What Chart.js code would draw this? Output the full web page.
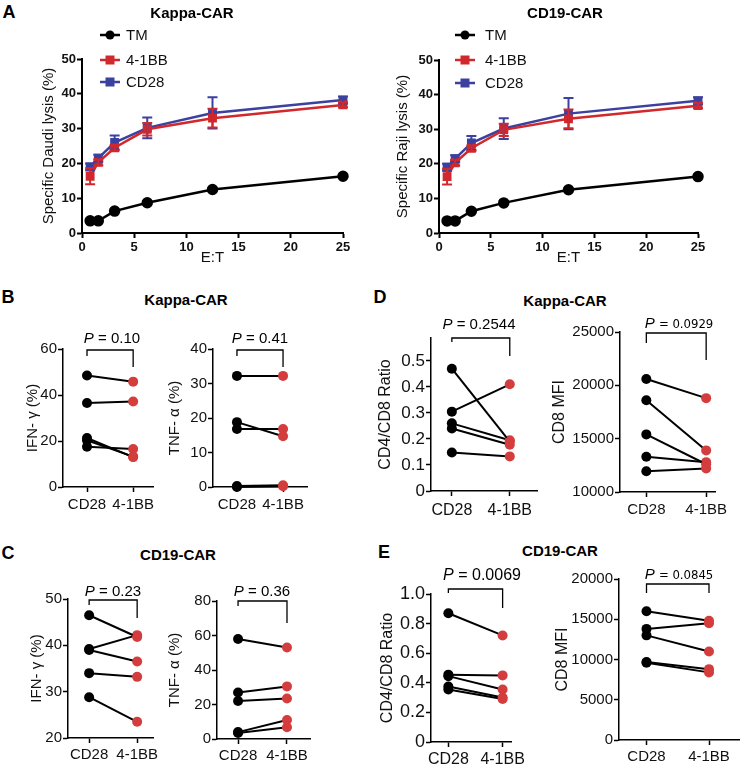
<!DOCTYPE html>
<html><head><meta charset="utf-8">
<script src="https://cdn.jsdelivr.net/npm/chart.js@4.4.0/dist/chart.umd.min.js"></script>
<style>
body{margin:0;background:#fff;width:744px;height:765px;position:relative;overflow:hidden;font-family:'Liberation Sans',Arial,Helvetica,sans-serif;}
canvas{position:absolute;}
.t{position:absolute;transform:translate(-50%,-50%);white-space:nowrap;line-height:1;color:#000;}
.b{font-weight:bold;}
.n{font-family:'Liberation Sans Narrow','DejaVu Sans Condensed',Arial,sans-serif;}
</style></head><body>
<script>
// ---------- DATA ----------
const etRatios = [0.78, 1.56, 3.125, 6.25, 12.5, 25];
const kappaTM = [3.5, 3.5, 6.3, 8.7, 12.5, 16.3];
const kappaBB = [16.3, 20.3, 24.5, 29.8, 33.0, 36.8];
const kappaBBErr = [2.3, 0.8, 0.8, 1.8, 2.7, 0.7];
const kappaCD28 = [19.0, 21.5, 26.0, 30.2, 34.5, 38.2];
const kappaCD28Err = [1.0, 1.0, 2.0, 3.0, 4.5, 1.0];
const cd19TM = [3.5, 3.5, 6.3, 8.7, 12.5, 16.3];
const cd19BB = [16.3, 20.3, 24.5, 29.8, 33.0, 36.8];
const cd19BBErr = [2.3, 0.8, 0.8, 1.8, 2.7, 0.7];
const cd19CD28 = [19.0, 21.5, 26.0, 30.2, 34.5, 38.2];
const cd19CD28Err = [1.0, 1.0, 2.0, 3.0, 4.5, 1.0];
const seriesNames = ['TM', '4-1BB', 'CD28'];
const groups = ['CD28', '4-1BB'];

const bIfnCD28 = [48.5, 36.5, 21.3, 20.3, 17.5];
const bIfnBB   = [45.8, 37.2, 13.0, 13.2, 16.5];
const bTnfCD28 = [32.2, 18.8, 16.8, 0.3, 0.0];
const bTnfBB   = [32.2, 14.7, 16.8, 0.5, 0.2];
const cIfnCD28 = [46.5, 39.2, 39.0, 34.0, 28.8];
const cIfnBB   = [41.8, 42.2, 36.5, 33.2, 23.5];
const cTnfCD28 = [58, 27, 22, 4, 3.5];
const cTnfBB   = [53, 30.5, 23.5, 11, 6.8];
const dRatioCD28 = [0.47, 0.305, 0.26, 0.24, 0.148];
const dRatioBB   = [0.19, 0.41, 0.195, 0.178, 0.133];
const dMfiCD28 = [20600, 18600, 15400, 13300, 11950];
const dMfiBB   = [18800, 13900, 12600, 12800, 12200];
const eRatioCD28 = [0.87, 0.455, 0.445, 0.375, 0.355];
const eRatioBB   = [0.72, 0.45, 0.355, 0.30, 0.29];
const eMfiCD28 = [16000, 13800, 13000, 9700, 9600];
const eMfiBB   = [14800, 14500, 11000, 8800, 8400];

const pValues = {bIfn:'0.10', bTnf:'0.41', cIfn:'0.23', cTnf:'0.36', dRatio:'0.2544', dMfi:'0.0929', eRatio:'0.0069', eMfi:'0.0845'};

// ---------- STYLE ----------
const FONT = "'Liberation Sans', Arial, Helvetica, sans-serif";
Chart.defaults.font.family = FONT;
Chart.defaults.color = '#111';
const colTM = '#000000', colBB = '#d1282d', colCD28 = '#3c409e';
const colPre = '#000000', colPost = '#d43d3d';

function addText(html, x, y, size, cls){
  const d = document.createElement('div');
  d.className = 't ' + (cls||'');
  d.style.left = x + 'px'; d.style.top = y + 'px'; d.style.fontSize = size + 'px';
  d.innerHTML = html;
  document.body.appendChild(d);
}

function makeCanvas(plot, pad){
  const c = document.createElement('canvas');
  const w = plot.r - plot.l + pad.l + pad.r, h = plot.b - plot.t + pad.t + pad.b;
  c.width = w; c.height = h;
  c.style.left = (plot.l - pad.l) + 'px'; c.style.top = (plot.t - pad.t) + 'px';
  c.style.width = w + 'px'; c.style.height = h + 'px';
  document.body.appendChild(c);
  return c;
}

const legendPlugin = {
  id: 'insetLegend',
  afterDraw(chart, args, o){
    if (!o || !o.rows) return;
    const ctx = chart.ctx, a = chart.chartArea;
    chart.data.datasets.forEach((ds, i) => {
      const y = a.top + o.rows[i];
      const x0 = a.left + o.lineX[0], x1 = a.left + o.lineX[1], xm = (x0 + x1) / 2;
      ctx.save();
      ctx.strokeStyle = ds.borderColor; ctx.lineWidth = ds.borderWidth;
      ctx.beginPath(); ctx.moveTo(x0, y); ctx.lineTo(x1, y); ctx.stroke();
      ctx.fillStyle = ds.borderColor;
      if (ds.pointStyle === 'rect') { ctx.fillRect(xm - 4.5, y - 4.5, 9, 9); }
      else { ctx.beginPath(); ctx.arc(xm, y, 4.5, 0, Math.PI * 2); ctx.fill(); }
      ctx.fillStyle = '#111'; ctx.font = o.font; ctx.textBaseline = 'middle'; ctx.textAlign = 'left';
      ctx.fillText(ds.label, a.left + o.textX, y + 1);
      ctx.restore();
    });
  }
};

const errorBarPlugin = {
  id: 'errorBars',
  afterDatasetsDraw(chart, args, o){
    const ctx = chart.ctx, ys = chart.scales.y;
    for (let i = chart.data.datasets.length - 1; i >= 0; i--) {
      const ds = chart.data.datasets[i];
      if (!ds.errorBars) continue;
      const meta = chart.getDatasetMeta(i);
      ctx.save(); ctx.strokeStyle = ds.borderColor; ctx.lineWidth = 2;
      meta.data.forEach((pt, j) => {
        const v = ds.data[j].y, e = ds.errorBars[j];
        const yt = ys.getPixelForValue(v + e), yb = ys.getPixelForValue(v - e);
        ctx.beginPath();
        ctx.moveTo(pt.x, yt); ctx.lineTo(pt.x, yb);
        ctx.moveTo(pt.x - o.cap, yt); ctx.lineTo(pt.x + o.cap, yt);
        ctx.moveTo(pt.x - o.cap, yb); ctx.lineTo(pt.x + o.cap, yb);
        ctx.stroke();
      });
      ctx.restore();
    }
  }
};

const bracketPlugin = {
  id: 'bracket',
  afterDraw(chart, args, o){
    if (!o || o.top === undefined) return;
    const ctx = chart.ctx, a = chart.chartArea, xs = chart.scales.x;
    const xl = xs.getPixelForValue(0), xr = xs.getPixelForValue(1), y = a.top + o.top;
    ctx.save(); ctx.strokeStyle = '#000'; ctx.lineWidth = 1.3;
    ctx.beginPath();
    ctx.moveTo(xl, y + o.leftDrop); ctx.lineTo(xl, y); ctx.lineTo(xr, y); ctx.lineTo(xr, y + o.rightDrop);
    ctx.stroke(); ctx.restore();
  }
};

function axisBase(w){
  return {
    border: {display: true, color: '#000', width: w},
    grid: {display: true, drawOnChartArea: false, drawTicks: true, tickLength: 5, tickWidth: w, color: '#000', tickColor: '#000'}
  };
}

function lysisChart(cfg){
  const canvas = makeCanvas(cfg.plot, cfg.pad);
  const mk = (vals) => etRatios.map((x, i) => ({x: x, y: vals[i]}));
  new Chart(canvas, {
    type: 'line',
    data: {datasets: [
      {label: seriesNames[0], data: mk(cfg.tm), borderColor: colTM, backgroundColor: colTM, pointBackgroundColor: colTM, pointBorderColor: colTM, pointStyle: 'circle', pointRadius: 4.5, borderWidth: 2.5, clip: false},
      {label: seriesNames[1], data: mk(cfg.bb), errorBars: cfg.bbErr, borderColor: colBB, backgroundColor: colBB, pointBackgroundColor: colBB, pointBorderColor: colBB, pointStyle: 'rect', pointRadius: 4.5, borderWidth: 2.5, clip: false},
      {label: seriesNames[2], data: mk(cfg.cd28), errorBars: cfg.cd28Err, borderColor: colCD28, backgroundColor: colCD28, pointBackgroundColor: colCD28, pointBorderColor: colCD28, pointStyle: 'rect', pointRadius: 4.5, borderWidth: 2.5, clip: false}
    ]},
    options: {
      responsive: false, animation: false, events: [],
      layout: {padding: {left: 0, top: cfg.pad.t, right: cfg.pad.r, bottom: 0}},
      scales: {
        x: Object.assign(axisBase(2), {type: 'linear', min: 0, max: 25,
          ticks: {stepSize: 5, font: {size: 13, weight: 'bold'}, color: '#111', padding: 2},
          title: {display: true, text: 'E:T', font: {size: 15}, padding: 0, color: '#111'},
          afterFit: s => { s.height = cfg.pad.b; }}),
        y: Object.assign(axisBase(2), {type: 'linear', min: 0, max: 50,
          ticks: {stepSize: 10, font: {size: 13, weight: 'bold'}, color: '#111', padding: 1},
          title: {display: true, text: cfg.yTitle, font: {size: 15}, padding: 0, color: '#111'},
          afterFit: s => { s.width = cfg.pad.l; }})
      },
      plugins: {legend: {display: false}, tooltip: {enabled: false},
        insetLegend: {rows: cfg.legendRows, lineX: cfg.legendLineX, textX: cfg.legendTextX, font: '15px ' + FONT},
        errorBars: {cap: 5}}
    },
    plugins: [legendPlugin, errorBarPlugin]
  });
}

function pairedChart(cfg){
  const canvas = makeCanvas(cfg.plot, cfg.pad);
  const datasets = cfg.pre.map((v, i) => ({
    data: [{x: 0, y: v}, {x: 1, y: cfg.post[i]}],
    borderColor: '#000', borderWidth: 2, pointRadius: 5,
    pointBackgroundColor: [colPre, colPost], pointBorderColor: [colPre, colPost], pointBorderWidth: 0, clip: false
  }));
  new Chart(canvas, {
    type: 'line',
    data: {datasets: datasets},
    options: {
      responsive: false, animation: false, events: [],
      layout: {padding: {left: 0, top: cfg.pad.t, right: cfg.pad.r, bottom: 0}},
      scales: {
        x: Object.assign(axisBase(1.5), {type: 'linear', min: cfg.xr[0], max: cfg.xr[1],
          afterBuildTicks: s => { s.ticks = groups.map((g, i) => ({value: i})); },
          ticks: {callback: v => groups[v], font: {size: cfg.xFont}, color: '#111', padding: cfg.xPad, maxRotation: 0, autoSkip: false},
          afterFit: s => { s.height = cfg.pad.b; }}),
        y: Object.assign(axisBase(1.5), {type: 'linear', min: cfg.y[0], max: cfg.y[1],
          ticks: {stepSize: cfg.y[2], includeBounds: false, font: {size: cfg.yFont}, color: '#111', padding: 1, callback: cfg.fmt},
          title: {display: true, text: cfg.yTitle, font: {size: cfg.titleFont}, padding: 0, color: '#111'},
          afterFit: s => { s.width = cfg.pad.l; }})
      },
      plugins: {legend: {display: false}, tooltip: {enabled: false}, bracket: cfg.bracket}
    },
    plugins: [bracketPlugin]
  });
}

const fmtInt = v => String(v);
const fmtDec = v => (Math.abs(v) < 1e-9 ? '0' : v.toFixed(1));

// ---------- PANEL A ----------
lysisChart({plot: {l: 82, t: 59, r: 343, b: 233}, pad: {l: 42, t: 40, r: 15, b: 34},
  tm: kappaTM, bb: kappaBB, bbErr: kappaBBErr, cd28: kappaCD28, cd28Err: kappaCD28Err,
  yTitle: 'Specific Daudi lysis (%)', legendRows: [-24, 1, 23], legendLineX: [18, 38], legendTextX: 44});
lysisChart({plot: {l: 439, t: 60, r: 698, b: 233}, pad: {l: 45, t: 41, r: 15, b: 34},
  tm: cd19TM, bb: cd19BB, bbErr: cd19BBErr, cd28: cd19CD28, cd28Err: cd19CD28Err,
  yTitle: 'Specific Raji lysis (%)', legendRows: [-25, 0, 23], legendLineX: [16, 36], legendTextX: 46});

// ---------- PANEL B ----------
pairedChart({plot: {l: 63, t: 349, r: 153, b: 487}, pad: {l: 39, t: 15, r: 10, b: 30}, xr: [-0.52, 1.43],
  y: [0, 60, 20], fmt: fmtInt, yFont: 15, xFont: 15, xPad: 4, titleFont: 15, yTitle: 'IFN- γ (%)',
  pre: bIfnCD28, post: bIfnBB, bracket: {top: 1, leftDrop: 6, rightDrop: 17}});
pairedChart({plot: {l: 213, t: 349, r: 307, b: 487}, pad: {l: 47, t: 15, r: 10, b: 30}, xr: [-0.52, 1.52],
  y: [0, 40, 10], fmt: fmtInt, yFont: 15, xFont: 15, xPad: 4, titleFont: 15, yTitle: 'TNF- α (%)',
  pre: bTnfCD28, post: bTnfBB, bracket: {top: 1, leftDrop: 6, rightDrop: 17}});

// ---------- PANEL C ----------
pairedChart({plot: {l: 68, t: 599, r: 153, b: 738}, pad: {l: 40, t: 15, r: 10, b: 27}, xr: [-0.44, 1.33],
  y: [20, 50, 10], fmt: fmtInt, yFont: 15, xFont: 15, xPad: 3, titleFont: 15, yTitle: 'IFN- γ (%)',
  pre: cIfnCD28, post: cIfnBB, bracket: {top: 1, leftDrop: 5, rightDrop: 18}});
pairedChart({plot: {l: 217, t: 601, r: 310, b: 739}, pad: {l: 51, t: 15, r: 10, b: 26}, xr: [-0.43, 1.47],
  y: [0, 80, 20], fmt: fmtInt, yFont: 15, xFont: 15, xPad: 3, titleFont: 15, yTitle: 'TNF- α (%)',
  pre: cTnfCD28, post: cTnfBB, bracket: {top: 0, leftDrop: 5, rightDrop: 22}});

// ---------- PANEL D ----------
pairedChart({plot: {l: 431, t: 338, r: 537, b: 491}, pad: {l: 55, t: 15, r: 10, b: 32}, xr: [-0.36, 1.47],
  y: [0, 0.588, 0.1], fmt: fmtDec, yFont: 17, xFont: 16, xPad: 5, titleFont: 16, yTitle: 'CD4/CD8 Ratio',
  pre: dRatioCD28, post: dRatioBB, bracket: {top: 0, leftDrop: 4, rightDrop: 18}});
pairedChart({plot: {l: 620, t: 332, r: 722, b: 492}, pad: {l: 70, t: 15, r: 10, b: 30}, xr: [-0.44, 1.16],
  y: [10000, 25000, 5000], fmt: fmtInt, yFont: 15, xFont: 15, xPad: 4, titleFont: 16, yTitle: 'CD8 MFI',
  pre: dMfiCD28, post: dMfiBB, bracket: {top: 1, leftDrop: 10, rightDrop: 27}});

// ---------- PANEL E ----------
pairedChart({plot: {l: 431, t: 594, r: 519, b: 742}, pad: {l: 53, t: 15, r: 10, b: 23}, xr: [-0.32, 1.17],
  y: [0, 1.0, 0.2], fmt: fmtDec, yFont: 18, xFont: 16, xPad: 3, titleFont: 16, yTitle: 'CD4/CD8 Ratio',
  pre: eRatioCD28, post: eRatioBB, bracket: {top: -5, leftDrop: 4, rightDrop: 19}});
pairedChart({plot: {l: 619, t: 579, r: 742, b: 740}, pad: {l: 66, t: 15, r: 2, b: 25}, xr: [-0.44, 1.48],
  y: [0, 20000, 5000], fmt: fmtInt, yFont: 15, xFont: 15, xPad: 3, titleFont: 16, yTitle: 'CD8 MFI',
  pre: eMfiCD28, post: eMfiBB, bracket: {top: 5, leftDrop: 9, rightDrop: 9}});

// ---------- TEXT ----------
addText('A', 9, 12, 18, 'b');
addText('Kappa-CAR', 192, 12, 15, 'b');
addText('CD19-CAR', 565, 12, 15, 'b');
addText('B', 8, 297, 18, 'b');
addText('Kappa-CAR', 186, 299, 15, 'b');
addText('D', 380, 297, 18, 'b');
addText('Kappa-CAR', 565, 300, 15, 'b');
addText('C', 8, 553, 18, 'b');
addText('CD19-CAR', 178, 554, 15, 'b');
addText('E', 384, 552, 18, 'b');
addText('CD19-CAR', 560, 550, 15, 'b');
addText('<i>P</i> = ' + pValues.bIfn, 112, 337, 15);
addText('<i>P</i> = ' + pValues.bTnf, 260, 337, 15);
addText('<i>P</i> = ' + pValues.cIfn, 113, 590, 15);
addText('<i>P</i> = ' + pValues.cTnf, 262, 590, 15);
addText('<i>P</i> = ' + pValues.dRatio, 479, 323, 15);
addText('<i>P</i> = ' + pValues.eRatio, 482, 575, 16);
addText('<i style="font-size:15px">P</i> <span class="n" style="font-size:13px">= ' + pValues.dMfi + '</span>', 679, 322, 15);
addText('<i style="font-size:15px">P</i> <span class="n" style="font-size:13px">= ' + pValues.eMfi + '</span>', 679, 573, 15);
</script>
</body></html>
